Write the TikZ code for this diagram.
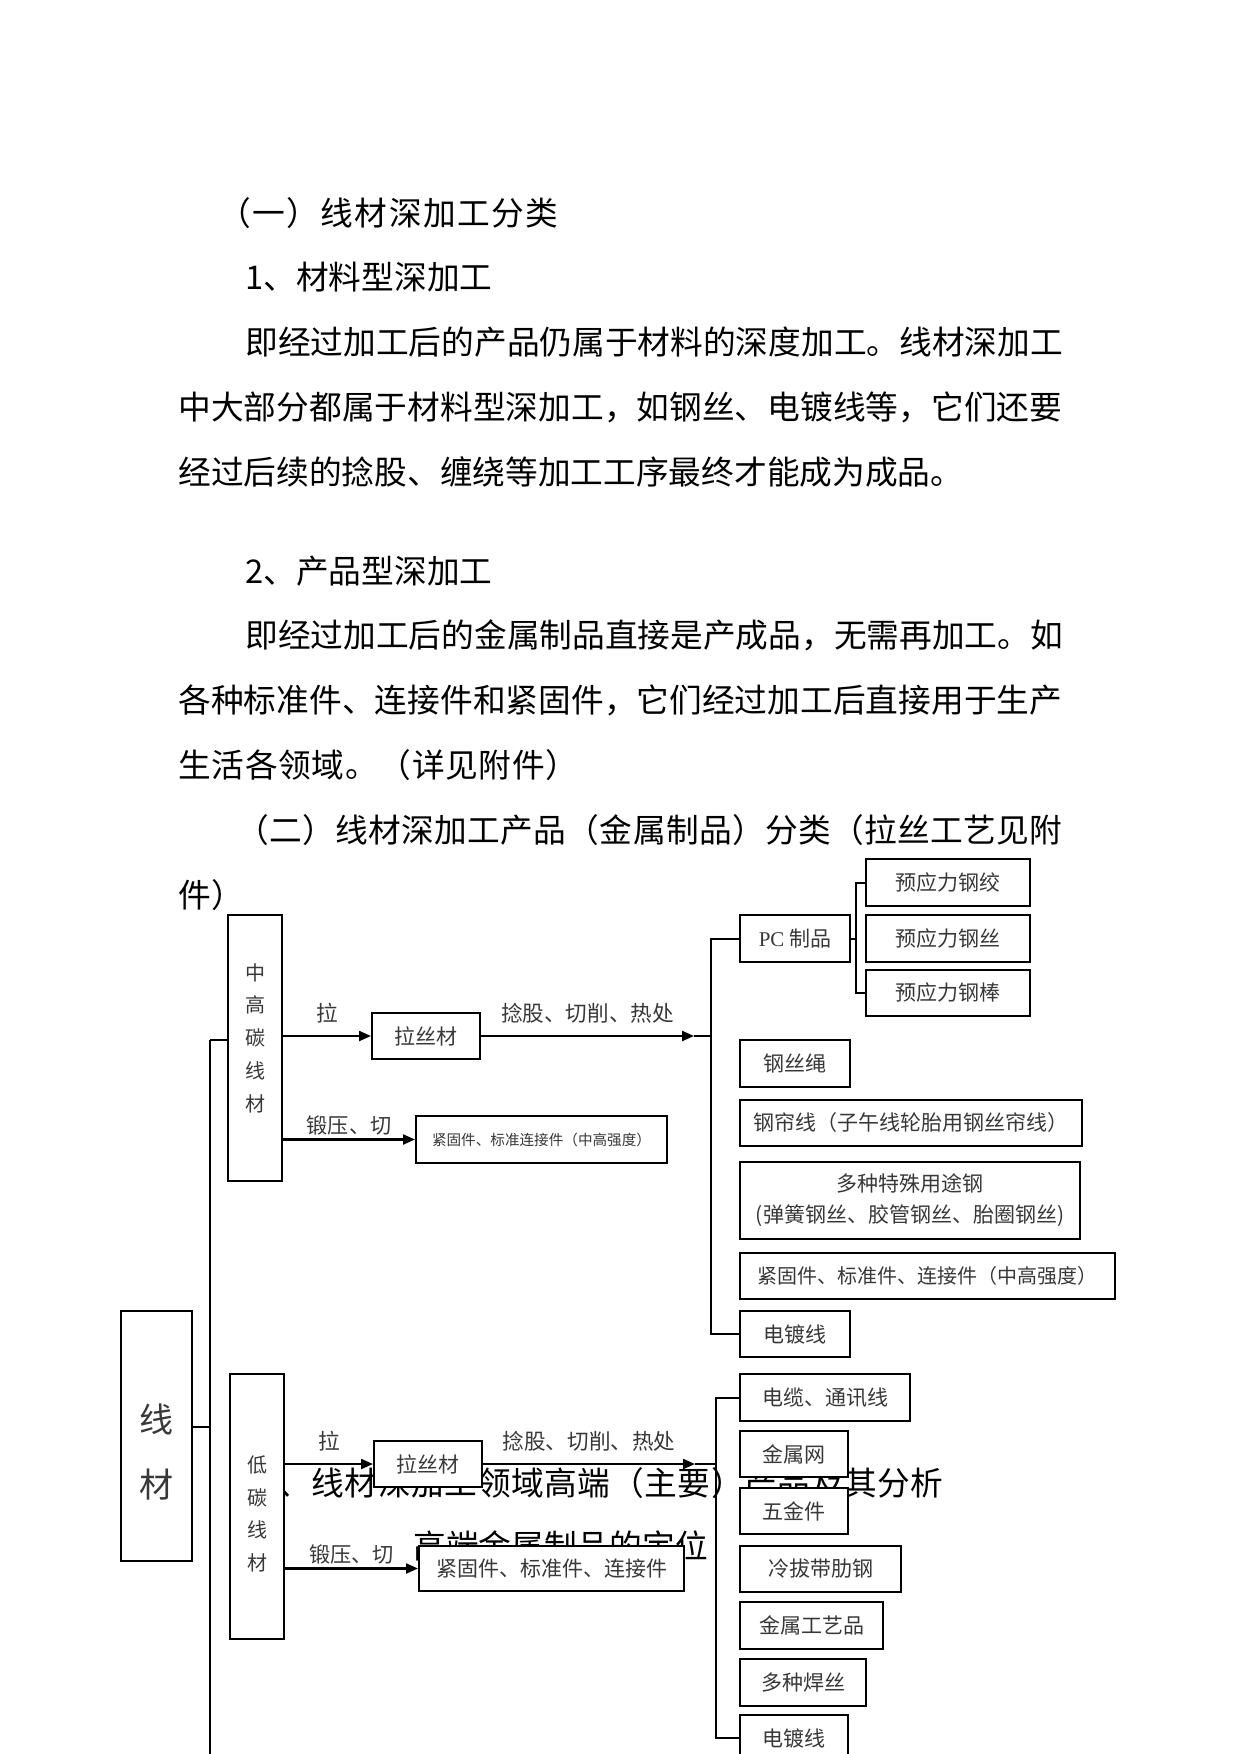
\documentclass[tikz,border=0pt]{standalone}
\usepackage{fontspec}
\setmainfont{Noto Sans CJK SC}
\newfontfamily\lsf{Liberation Serif}
\usetikzlibrary{arrows.meta}
\def\spreadX#1{\ifx#1\relax\else#1\hskip 0pt plus 1fil\relax\expandafter\spreadX\fi}
\newcommand\spreadline[2]{\hbox to #1{\spreadX#2\relax\unskip}}
\tikzset{
  body/.style={anchor=west, inner sep=0pt, font=\fontsize{16.35pt}{20pt}\selectfont},
  sz/.style 2 args={minimum width=#1*0.5pt, minimum height=#2*0.5pt},
  box/.style={draw, line width=1pt, fill=white, inner sep=0pt, text=black!78,
    font=\fontsize{10.5pt}{12pt}\selectfont},
  dtext/.style={inner sep=0pt, text=black!78, align=center},
  conn/.style={line width=1pt},
  trunkline/.style={line width=0.65pt},
  arr/.style={line width=1.1pt, -{Triangle[length=6pt,width=5pt]}},
  labA/.style={midway, yshift=11.5pt, inner sep=0pt, text=black!78, font=\fontsize{10.8pt}{12pt}\selectfont},
  labB/.style={midway, yshift=7pt, inner sep=0pt, text=black!78, font=\fontsize{10.6pt}{12pt}\selectfont}
}
\begin{document}
\begin{tikzpicture}[x=0.5pt,y=-0.5pt]
\useasboundingbox (0,0) rectangle (1241,1754);
\clip (0,0) rectangle (1241,1754);
\fill[white] (0,0) rectangle (1241,1754);

% body text
\node[body] (t1) at (218,212.6) {\spreadline{170pt}{（一）线材深加工分类}};
\node[body] (t2) at (245,277.5) {1、材料型深加工};
\node[body] (t3) at (245,342.4) {\spreadline{408.5pt}{即经过加工后的产品仍属于材料的深度加工。线材深加工}};
\node[body] (t4) at (178,407.3) {\spreadline{442pt}{中大部分都属于材料型深加工，如钢丝、电镀线等，它们还要}};
\node[body] (t5) at (178,472.2) {经过后续的捻股、缠绕等加工工序最终才能成为成品。};
\node[body] (t6) at (245,570.7) {2、产品型深加工};
\node[body] (t7) at (245,635.6) {\spreadline{408.5pt}{即经过加工后的金属制品直接是产成品，无需再加工。如}};
\node[body] (t8) at (178,700.5) {\spreadline{442pt}{各种标准件、连接件和紧固件，它们经过加工后直接用于生产}};
\node[body] (t9) at (178,765.4) {\spreadline{200pt}{生活各领域。（详见附件）}};
\node[body] (t10) at (236,830.3) {\spreadline{413pt}{（二）线材深加工产品（金属制品）分类（拉丝工艺见附}};
\node[body] (t11) at (178,895.2) {件）};
\node[body] (t12) at (278,1483) {\spreadline{332.5pt}{、线材深加工领域高端（主要）产品及其分析}};
\node[body] (t13) at (413,1546) {高端金属制品的定位};

% left boxes
\node[box, sz={71}{250}] (xc) at (156.5,1436) {};
\node[dtext, font=\fontsize{17pt}{20pt}\selectfont] (xct1) at (156,1419) {线};
\node[dtext, font=\fontsize{17pt}{20pt}\selectfont] (xct2) at (156,1485) {材};

\node[box, sz={54}{266}] (zg) at (255,1048) {};
\node[dtext, font=\fontsize{10pt}{16.35pt}\selectfont] (zgt) at (255,1038) {中\\高\\碳\\线\\材};
\node[box, sz={54}{265}] (dt) at (257,1506.5) {};
\node[dtext, font=\fontsize{10pt}{16.35pt}\selectfont] (dtt) at (257,1514) {低\\碳\\线\\材};

% middle boxes
\node[box, sz={108}{46}] (ls1) at (426,1036) {拉丝材};
\node[box, sz={251}{47}, font=\fontsize{7.3pt}{9pt}\selectfont] (jg1) at (541.5,1139.5) {紧固件、标准连接件（中高强度）};
\node[box, sz={108}{46}] (ls2) at (428,1464) {拉丝材};
\node[box, sz={265}{45}] (jg3) at (551.5,1568.5) {紧固件、标准件、连接件};

% upper products
\node[box, sz={110}{47}] (pc) at (795,938.5) {{\lsf PC} 制品};
\node[box, sz={164}{47}] (y1) at (948,882.5) {预应力钢绞};
\node[box, sz={164}{47}] (y2) at (948,938.5) {预应力钢丝};
\node[box, sz={164}{46}] (y3) at (948,993) {预应力钢棒};
\node[box, sz={110}{47}] (gss) at (795,1063.5) {钢丝绳};
\node[box, sz={342}{46}] (glx) at (911,1123) {钢帘线（子午线轮胎用钢丝帘线）};
\node[box, sz={340}{77}, align=center, font=\fontsize{10.5pt}{15.5pt}\selectfont] (dz) at (910,1200.5) {多种特殊用途钢\\(弹簧钢丝、胶管钢丝、胎圈钢丝)};
\node[box, sz={375}{46}, font=\fontsize{10pt}{12pt}\selectfont] (jg2) at (927.5,1276) {紧固件、标准件、连接件（中高强度）};
\node[box, sz={110}{46}] (ddx1) at (795,1334) {电镀线};

% lower products
\node[box, sz={170}{47}] (dl) at (825,1397.5) {电缆、通讯线};
\node[box, sz={108}{46}] (jsw) at (794,1454) {金属网};
\node[box, sz={108}{46}] (wjj) at (794,1511) {五金件};
\node[box, sz={161}{46}] (ld) at (820.5,1569) {冷拔带肋钢};
\node[box, sz={143}{47}] (gy) at (811.5,1625.5) {金属工艺品};
\node[box, sz={126}{47}] (hs) at (803,1682.5) {多种焊丝};
\node[box, sz={108}{46}] (ddx2) at (794,1738) {电镀线};

% trunk
\coordinate (tt) at (210,1040);
\coordinate (tm) at (210,1427);
\coordinate (tb) at (210,1760);
\draw[trunkline] (tt) -- (tb);
\draw[conn] (zg.west |- tt) -- (tt);
\draw[conn] (xc.east |- tm) -- (tm);

% upper flow
\draw[arr] (zg.east |- ls1.west) -- node[labA] (lb1) {拉} (ls1.west);
\coordinate (a1) at (694,1036);
\coordinate (ub) at (711,1036);
\draw[arr] (ls1.east) -- node[labA] (lb2) {捻股、切削、热处} (a1);
\draw[conn] (a1) -- (ub);
\draw[arr] (zg.east |- jg1.west) -- node[labB] (lb3) {锻压、切} (jg1.west);
\draw[conn] (pc.west) -| (ub) |- (ddx1.west);
\coordinate (pcb) at (856,938.5);
\draw[conn] (pc.east) -- (pcb);
\draw[conn] (y1.west) -| (pcb) |- (y3.west);

% lower flow
\draw[arr] (dt.east |- ls2.west) -- node[labA] (lb4) {拉} (ls2.west);
\coordinate (a2) at (695,1464);
\coordinate (lb) at (716,1464);
\draw[arr] (ls2.east) -- node[labA] (lb5) {捻股、切削、热处} (a2);
\draw[conn] (a2) -- (lb);
\draw[arr] (dt.east |- jg3.west) -- node[labB] (lb6) {锻压、切} (jg3.west);
\draw[conn] (dl.west) -| (lb) |- (ddx2.west);
\end{tikzpicture}
\end{document}
